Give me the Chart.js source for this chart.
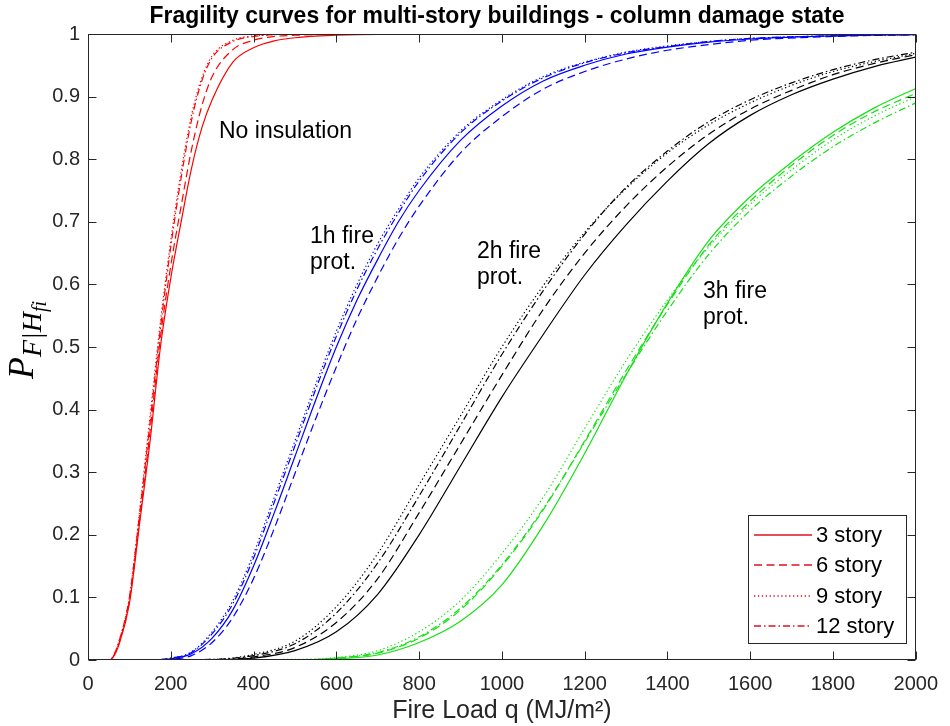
<!DOCTYPE html>
<html><head><meta charset="utf-8">
<script src="https://cdn.jsdelivr.net/npm/chart.js@4.4.1/dist/chart.umd.min.js"></script>
<style>html,body{margin:0;padding:0;background:#fff}#wrap{width:950px;height:726px}</style>
</head><body><div id="wrap"><canvas id="c" width="950" height="726"></canvas></div>
<script>
// ---- data ----
const storyLabels = ['3 story','6 story','9 story','12 story'];
const xTicks = [0,200,400,600,800,1000,1200,1400,1600,1800,2000];
const xTickLabels = ['0','200','400','600','800','1000','1200','1400','1600','1800','2000'];
const yTicks = [0,0.1,0.2,0.3,0.4,0.5,0.6,0.7,0.8,0.9,1];
const yTickLabels = ['0','0.1','0.2','0.3','0.4','0.5','0.6','0.7','0.8','0.9','1'];

// No insulation (red)
const qRed  = [0,50,60,75,100,125,150,175,200,225,250,275,300,350,400,450,500,600,700,2000];
const red3  = [0,0,0.004,0.025,0.09,0.22,0.35,0.50,0.61,0.70,0.785,0.85,0.895,0.955,0.978,0.989,0.994,0.998,0.9995,1];
const red6  = [0,0,0.004,0.027,0.095,0.225,0.365,0.515,0.63,0.725,0.815,0.885,0.932,0.975,0.99,0.996,0.998,0.9995,1,1];
const red9  = [0,0,0.005,0.03,0.10,0.24,0.39,0.54,0.67,0.78,0.87,0.93,0.965,0.99,0.997,0.999,1,1,1,1];
const red12 = [0,0,0.005,0.03,0.10,0.235,0.38,0.53,0.66,0.77,0.862,0.925,0.962,0.988,0.996,0.999,1,1,1,1];

// 1h fire protection (blue)
const qBlue  = [0,150,200,250,300,350,400,450,500,550,600,650,700,750,800,900,1000,1100,1200,1300,1400,1500,1600,1800,2000];
const blue3  = [0,0,0.002,0.01,0.035,0.08,0.15,0.235,0.325,0.415,0.50,0.575,0.64,0.70,0.75,0.83,0.885,0.925,0.95,0.968,0.979,0.987,0.992,0.997,0.999];
const blue6  = [0,0,0.001,0.007,0.028,0.068,0.13,0.21,0.298,0.385,0.468,0.545,0.612,0.673,0.725,0.81,0.868,0.912,0.94,0.96,0.974,0.983,0.99,0.996,0.999];
const blue9  = [0,0,0.003,0.013,0.045,0.095,0.17,0.26,0.35,0.44,0.525,0.60,0.665,0.72,0.77,0.845,0.895,0.932,0.955,0.971,0.981,0.988,0.993,0.997,0.999];
const blue12 = [0,0,0.003,0.012,0.042,0.09,0.163,0.252,0.342,0.432,0.517,0.592,0.657,0.714,0.765,0.842,0.893,0.93,0.954,0.97,0.98,0.988,0.993,0.997,0.999];

// 2h fire protection (black)
const qBlack  = [0,300,400,500,600,700,800,900,1000,1100,1200,1300,1400,1500,1600,1700,1800,1900,2000];
const black3  = [0,0,0.003,0.015,0.045,0.105,0.20,0.31,0.42,0.52,0.615,0.695,0.765,0.825,0.87,0.903,0.928,0.948,0.963];
const black6  = [0,0,0.005,0.02,0.06,0.13,0.235,0.345,0.455,0.56,0.65,0.725,0.788,0.84,0.88,0.91,0.935,0.953,0.967];
const black9  = [0,0.001,0.009,0.03,0.085,0.17,0.28,0.39,0.50,0.598,0.683,0.753,0.81,0.855,0.89,0.918,0.94,0.956,0.969];
const black12 = [0,0.001,0.007,0.026,0.075,0.155,0.262,0.375,0.488,0.59,0.68,0.755,0.813,0.86,0.895,0.922,0.943,0.959,0.971];

// 3h fire protection (green)
const qGreen  = [0,500,600,700,800,900,1000,1100,1200,1300,1400,1500,1600,1700,1800,1900,2000];
const green3  = [0,0,0.002,0.008,0.028,0.062,0.12,0.215,0.33,0.455,0.57,0.67,0.74,0.795,0.843,0.882,0.913];
const green6  = [0,0,0.003,0.011,0.035,0.08,0.15,0.24,0.35,0.462,0.568,0.663,0.733,0.79,0.838,0.876,0.905];
const green9  = [0,0.001,0.004,0.015,0.045,0.095,0.17,0.26,0.37,0.478,0.575,0.66,0.728,0.783,0.831,0.869,0.9];
const green12 = [0,0,0.003,0.012,0.037,0.083,0.152,0.242,0.348,0.456,0.558,0.648,0.718,0.773,0.82,0.858,0.89];

// ---- styles ----
const COLORS = {red:'#ff0000', blue:'#0000ff', black:'#000000', green:'rgb(20,225,20)'};
const LEGEND_COLOR = '#e01020';
const DASHES = [[], [8,4.5], [1.3,2.6], [7,3,1.5,3]];
const groups = [
  {q:qRed,   color:COLORS.red,   series:[red3,red6,red9,red12]},
  {q:qBlue,  color:COLORS.blue,  series:[blue3,blue6,blue9,blue12]},
  {q:qBlack, color:COLORS.black, series:[black3,black6,black9,black12]},
  {q:qGreen, color:COLORS.green, series:[green3,green6,green9,green12]}
];
const datasets = [];
groups.forEach(g => {
  g.series.forEach((s, k) => {
    datasets.push({
      label: storyLabels[k],
      data: g.q.map((q, i) => ({x: q, y: s[i]})),
      borderColor: g.color,
      backgroundColor: g.color,
      borderDash: DASHES[k],
      borderWidth: 1.2,
      pointRadius: 0,
      fill: false,
      cubicInterpolationMode: 'monotone'
    });
  });
});

const AX = '#262626';
const SANS = '"Liberation Sans", Arial, sans-serif';

const overlay = {
  id: 'overlay',
  afterDatasetsDraw(chart) {
    const {ctx, chartArea: ca, scales} = chart;
    const L = Math.round(ca.left) + 0.5, R = Math.round(ca.right) - 0.5;
    const T = Math.round(ca.top) + 0.5, B = Math.round(ca.bottom) - 0.5;
    ctx.save();
    ctx.strokeStyle = AX; ctx.lineWidth = 1; ctx.setLineDash([]);
    ctx.beginPath();
    scales.x.ticks.forEach(t => {
      const px = Math.round(scales.x.getPixelForValue(t.value)) + 0.5;
      ctx.moveTo(px, B); ctx.lineTo(px, B - 8);
      ctx.moveTo(px, T); ctx.lineTo(px, T + 8);
    });
    scales.y.ticks.forEach(t => {
      const py = Math.round(scales.y.getPixelForValue(t.value)) + 0.5;
      ctx.moveTo(L, py); ctx.lineTo(L + 8, py);
      ctx.moveTo(R, py); ctx.lineTo(R - 8, py);
    });
    ctx.stroke();
    ctx.strokeRect(L, T, R - L, B - T);
    ctx.restore();
  },
  afterDraw(chart) {
    const {ctx} = chart;
    ctx.save();
    // title
    ctx.fillStyle = '#000';
    ctx.font = 'bold 23px ' + SANS;
    const title = 'Fragility curves for multi-story buildings - column damage state';
    const tw = ctx.measureText(title).width;
    ctx.translate(497, 23); ctx.scale(695 / tw, 1);
    ctx.textAlign = 'center'; ctx.textBaseline = 'alphabetic';
    ctx.fillText(title, 0, 0);
    ctx.restore();

    // y label  P_{F|H_fi}
    ctx.save();
    ctx.fillStyle = '#000';
    const parts = [
      {t:'P',   f:'italic 36px "Liberation Serif", serif', dy:0},
      {t:'F|H', f:'italic 28px "Liberation Serif", serif', dy:8},
      {t:'fi',  f:'italic 20px "Liberation Serif", serif', dy:13}
    ];
    let W = 0;
    parts.forEach(p => { ctx.font = p.f; p.w = ctx.measureText(p.t).width; W += p.w; });
    ctx.translate(33, 340 + W / 2);
    ctx.rotate(-Math.PI / 2);
    let x = 0;
    parts.forEach(p => { ctx.font = p.f; ctx.fillText(p.t, x, p.dy); x += p.w; });
    ctx.restore();

    // annotations
    ctx.save();
    ctx.fillStyle = '#000';
    ctx.font = '23px ' + SANS;
    ctx.textAlign = 'left'; ctx.textBaseline = 'alphabetic';
    ctx.fillText('No insulation', 219, 138);
    ctx.fillText('1h fire', 310, 243); ctx.fillText('prot.', 310, 269);
    ctx.fillText('2h fire', 477, 258); ctx.fillText('prot.', 477, 284);
    ctx.fillText('3h fire', 703, 298); ctx.fillText('prot.', 703, 324);
    ctx.restore();

    // legend
    ctx.save();
    const bx = 748.5, by = 515.5, bw = 158, bh = 128;
    ctx.fillStyle = '#fff'; ctx.fillRect(bx, by, bw, bh);
    ctx.strokeStyle = AX; ctx.lineWidth = 1; ctx.setLineDash([]);
    ctx.strokeRect(bx, by, bw, bh);
    const rows = [535, 565, 596, 626];
    ctx.font = '22px ' + SANS; ctx.textBaseline = 'middle'; ctx.textAlign = 'left';
    for (let i = 0; i < 4; i++) {
      ctx.save();
      ctx.strokeStyle = LEGEND_COLOR;
      ctx.lineWidth = 1.5;
      ctx.setLineDash(DASHES[i].slice());
      ctx.beginPath(); ctx.moveTo(754, rows[i]); ctx.lineTo(812, rows[i]); ctx.stroke();
      ctx.restore();
      ctx.fillStyle = '#000';
      ctx.fillText(storyLabels[i], 816, rows[i] + 1);
    }
    ctx.restore();
  }
};

new Chart(document.getElementById('c').getContext('2d'), {
  type: 'line',
  data: {datasets},
  options: {
    responsive: false, animation: false, devicePixelRatio: 1,
    layout: {padding: {top: 34, right: 30, left: 0, bottom: 0}},
    plugins: {legend: {display: false}, title: {display: false}, tooltip: {enabled: false}},
    scales: {
      x: {
        type: 'linear', min: 0, max: 2000,
        grid: {display: false, drawTicks: false}, border: {display: false},
        afterBuildTicks: s => { s.ticks = xTicks.map(v => ({value: v})); },
        afterFit: s => { s.height = 66; },
        ticks: {font: {family: SANS, size: 20}, color: AX, padding: 12, maxRotation: 0, autoSkip: false,
                callback: (v, i) => xTickLabels[i]},
        title: {display: true, text: 'Fire Load q (MJ/m²)', font: {family: SANS, size: 25}, color: AX,
                padding: {top: 0, bottom: 0}}
      },
      y: {
        type: 'linear', min: 0, max: 1,
        grid: {display: false, drawTicks: false}, border: {display: false},
        afterBuildTicks: s => { s.ticks = yTicks.map(v => ({value: v})); },
        afterFit: s => { s.width = 88; },
        ticks: {font: {family: SANS, size: 20}, color: AX, padding: 8, autoSkip: false,
                callback: (v, i) => yTickLabels[i]}
      }
    }
  },
  plugins: [overlay]
});
</script>
</body></html>
